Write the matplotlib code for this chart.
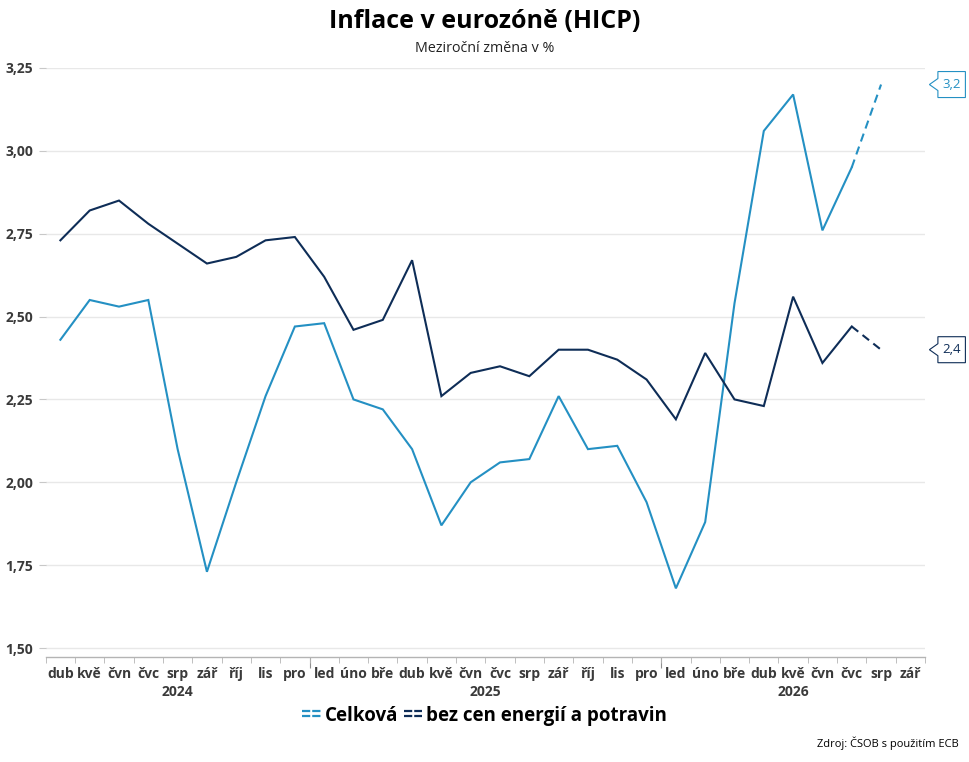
# ---------------------------------------------------------------------
#  Inflace v eurozóně (HICP) - celková a jádrová
# ---------------------------------------------------------------------

import matplotlib
matplotlib.use('Agg')
import matplotlib.pyplot as plt
import matplotlib.transforms as mtransforms
from matplotlib.lines import Line2D
from matplotlib.patches import Polygon
from matplotlib.legend_handler import HandlerBase

plt.rcParams['font.family'] = ['Open Sans', 'DejaVu Sans']

# ---------------------------------------------------------------------
#  Data (dub 2024 - zář 2026)
# ---------------------------------------------------------------------

mesice = ['dub', 'kvě', 'čvn', 'čvc', 'srp', 'zář', 'říj', 'lis', 'pro',
          'led', 'úno', 'bře', 'dub', 'kvě', 'čvn', 'čvc', 'srp', 'zář', 'říj', 'lis', 'pro',
          'led', 'úno', 'bře', 'dub', 'kvě', 'čvn', 'čvc', 'srp', 'zář']
roky = ['2024', '2025', '2026']
mesicu_v_roce = [9, 12, 9]

celkova = [2.43, 2.55, 2.53, 2.55, 2.10, 1.73, 2.00, 2.26, 2.47,
           2.48, 2.25, 2.22, 2.10, 1.87, 2.00, 2.06, 2.07, 2.26, 2.10, 2.11, 1.94,
           1.68, 1.88, 2.54, 3.06, 3.17, 2.76, 2.95]
celkova_odhad = 3.20

jadrova = [2.73, 2.82, 2.85, 2.78, 2.72, 2.66, 2.68, 2.73, 2.74,
           2.62, 2.46, 2.49, 2.67, 2.26, 2.33, 2.35, 2.32, 2.40, 2.40, 2.37, 2.31,
           2.19, 2.39, 2.25, 2.23, 2.56, 2.36, 2.47]
jadrova_odhad = 2.40

popisky_odhad = ['3,2', '2,4']

barva_celk = '#2490c3'
barva_jadr = '#0e2d57'
barva_text = '#3a3a3a'


# ---------------------------------------------------------------------
#  Legenda se dvěma čárkovanými linkami
# ---------------------------------------------------------------------

class DvojitaCarka(HandlerBase):
    def create_artists(self, legend, orig_handle, xdescent, ydescent,
                       width, height, fontsize, trans):
        artists = []
        for frac in (0.75, 0.38):
            y = frac * height - ydescent
            ln = Line2D([-xdescent, -xdescent + width], [y, y],
                        color=orig_handle.get_color(), lw=1.6,
                        linestyle=(0, (3.7, 0.9)))
            ln.set_transform(trans)
            artists.append(ln)
        return artists


# ---------------------------------------------------------------------
#  Graf
# ---------------------------------------------------------------------

fig = plt.figure(figsize=(9.69, 7.62), dpi=100)
ax = fig.add_axes([0.0472, 0.1378, 0.9074, 0.7730])

x = list(range(len(celkova)))
n = len(celkova)

ax.plot(x, celkova, color=barva_celk, lw=1.5, solid_joinstyle='miter')
ax.plot(x, jadrova, color=barva_jadr, lw=1.5, solid_joinstyle='miter')
ax.plot([n - 1, n], [celkova[-1], celkova_odhad], color=barva_celk, lw=1.5,
        linestyle=(0, (4, 2.6)))
ax.plot([n - 1, n], [jadrova[-1], jadrova_odhad], color=barva_jadr, lw=1.5,
        linestyle=(0, (4, 2.6)))

ax.set_xlim(-0.5, len(mesice) - 0.5)
ax.set_ylim(1.4729, 3.25)

# osa y
yticks = [1.50, 1.75, 2.00, 2.25, 2.50, 2.75, 3.00, 3.25]
ax.set_yticks(yticks)
ax.set_yticklabels([f'{v:.2f}'.replace('.', ',') for v in yticks],
                   fontsize=10, fontweight='bold', color=barva_text)
ax.grid(axis='y', color='#e8e8e8', lw=1)
ax.set_axisbelow(True)
ax.tick_params(axis='y', length=5, color='#c8c8c8', pad=4)

for s in ['top', 'right', 'left']:
    ax.spines[s].set_visible(False)
ax.spines['bottom'].set_color('#b4b4b4')
ax.spines['bottom'].set_linewidth(1)

# osa x - měsíce
ax.set_xticks(range(len(mesice)))
ax.set_xticklabels(mesice, fontsize=10, fontweight='bold', color=barva_text)
ax.tick_params(axis='x', length=0, pad=7)
ax.set_xticks([i - 0.5 for i in range(len(mesice) + 1)], minor=True)
ax.tick_params(axis='x', which='minor', length=4, color='#b4b4b4')

# hranice roků a popisky roků
hranice = []
start = 0
for rok, pocet in zip(roky, mesicu_v_roce):
    stred = start + (pocet - 1) / 2
    ax.annotate(rok, xy=(stred, 0), xycoords=ax.get_xaxis_transform(),
                xytext=(0, -35), textcoords='offset pixels',
                ha='center', va='center', fontsize=10, fontweight='bold',
                color=barva_text)
    start += pocet
    if start < len(mesice):
        hranice.append(start - 0.5)
sec = ax.secondary_xaxis('bottom')
sec.set_xticks(hranice)
sec.set_xticklabels([''] * len(hranice))
sec.tick_params(length=8, color='#909090')
sec.spines['bottom'].set_visible(False)

# štítky s posledními hodnotami
trans_blend = mtransforms.blended_transform_factory(ax.transAxes, ax.transData)
for hodnota, popisek, barva in zip([celkova_odhad, jadrova_odhad], popisky_odhad,
                                   [barva_celk, barva_jadr]):
    off = mtransforms.ScaledTranslation(1.005, hodnota, trans_blend)
    tr = fig.dpi_scale_trans + off
    # offsety v pixelech -> palce
    pts = [(0, 0), (8.5, 6), (8.5, 13), (36, 13), (36, -13), (8.5, -13), (8.5, -6)]
    pts = [(px / 100, py / 100) for px, py in pts]
    poly = Polygon(pts, closed=True, facecolor='white', edgecolor=barva,
                   lw=0.8, transform=tr, clip_on=False, zorder=5)
    fig.add_artist(poly)
    fig.text(22.5 / 100, 0, popisek, transform=tr, ha='center', va='center',
             fontsize=9.5, color=barva, zorder=6)

# ---------------------------------------------------------------------
#  Titulky, legenda, zdroj
# ---------------------------------------------------------------------

fig.text(0.5, 1 - 22 / 762, 'Inflace v eurozóně (HICP)', ha='center', va='center',
         fontsize=18, fontweight='bold', color='black')
fig.text(0.5, 1 - 48 / 762, 'Meziroční změna v %', ha='center', va='center',
         fontsize=10.3, color='#222222')

h1 = Line2D([], [], color=barva_celk)
h2 = Line2D([], [], color=barva_jadr)
leg = fig.legend([h1, h2], ['Celková', 'bez cen energií a potravin'],
                 loc='center', bbox_to_anchor=(0.5, 1 - 716 / 762), ncol=2,
                 frameon=False, handler_map={Line2D: DvojitaCarka()},
                 handlelength=1.0, handletextpad=0.2, columnspacing=0.3,
                 prop={'weight': 'bold', 'size': 13.5})

fig.text(0.989, 1 - 743 / 762, 'Zdroj: ČSOB s použitím ECB', ha='right', va='center',
         fontsize=8, color='black')

plt.savefig('out.png', dpi=100)
